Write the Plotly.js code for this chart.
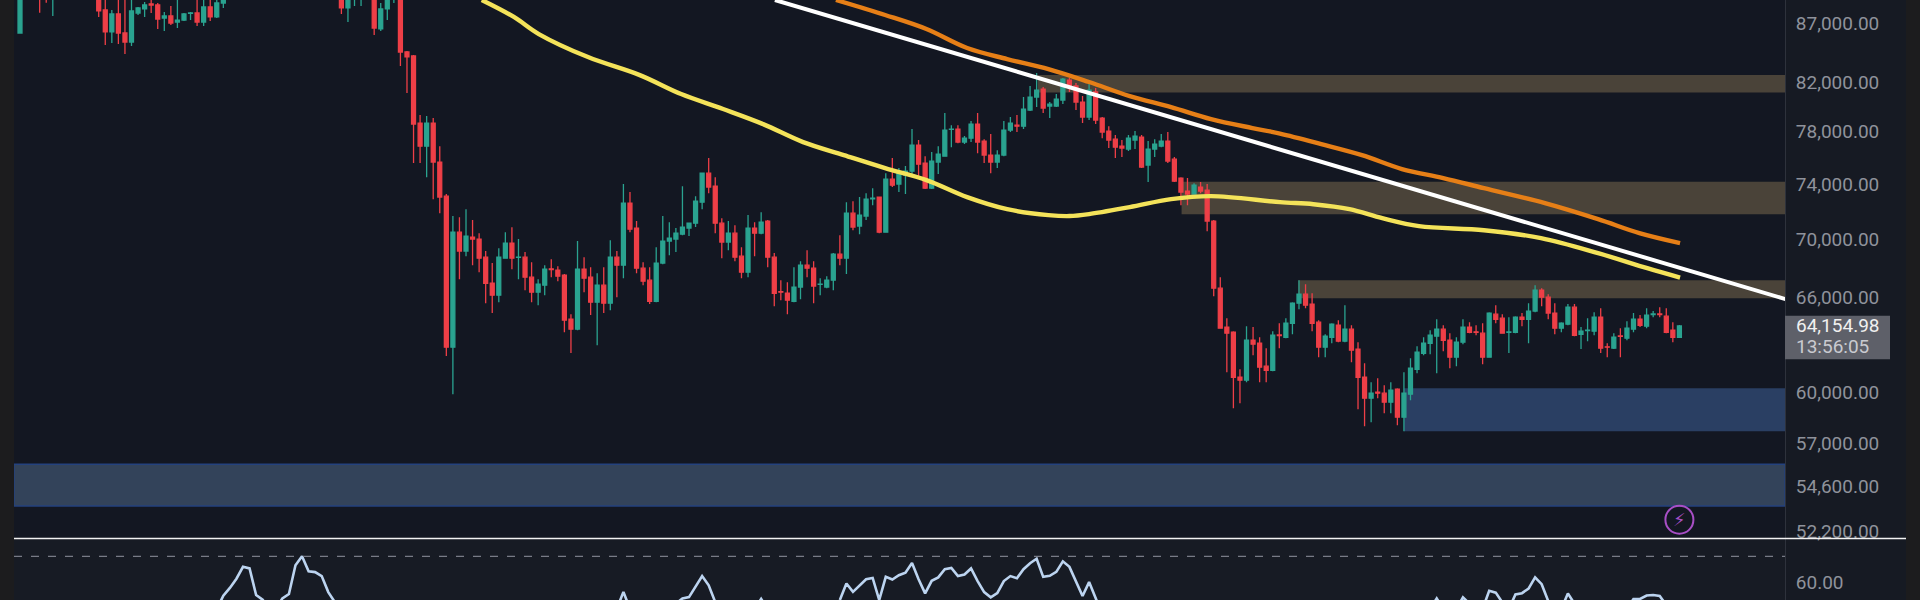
<!DOCTYPE html>
<html>
<head>
<meta charset="utf-8">
<script src="https://cdn.plot.ly/plotly-3.0.1.min.js"></script>
<style>
html,body{margin:0;padding:0;background:#1c1c1e;width:1920px;height:600px;overflow:hidden}
#chart{position:absolute;left:14px;top:0;width:1892px;height:600px}
</style>
</head>
<body>
<div id="chart"></div>
<script>
const _ = null;
const opens = [
86130,_,_,90500,90500,89800,_,_,_,_,
_,_,90000,88145,86220,87790,86130,85350,87880,88240,
88680,88590,87440,87620,87090,87260,87840,87880,87090,88410,
87530,88770,_,_,_,_,_,_,_,_,
_,_,_,_,_,_,_,_,_,90000,
88330,89800,89800,_,90500,86480,88240,89800,90500,84500,
84160,78670,76870,78670,75650,73100,62800,70500,69170,70150,
70010,68750,66970,66170,68680,69720,68730,68750,67380,66370,
66840,67950,67860,67520,64590,63950,67920,67380,65710,66840,
65640,68750,68200,72590,70790,67990,67180,65770,68340,69870,
70010,70360,70790,71140,72660,74810,73840,71140,69800,70430,
68820,67720,70790,70430,71290,68750,66400,66300,65770,66710,
68200,67990,66890,66710,67180,68960,68680,71860,70930,71650,
72900,73030,70500,74360,73990,74660,74960,76950,75570,73690,
75650,76100,78180,78200,77180,77490,78590,77260,76180,75650,
76180,78120,78510,78430,79710,80760,81410,80030,80030,80510,
82150,81660,80350,79150,81170,79070,78040,77410,76870,76640,
77340,77570,75420,76640,76870,77260,75870,74440,73470,73250,
73770,73540,71290,66640,64080,63750,60930,60750,63240,63050,
61610,61360,63580,63430,64330,65640,66240,65580,64400,62800,
63430,64200,63180,63950,62680,60930,59660,60020,59960,59420,
60200,58530,59900,61420,62420,63050,63500,63950,63240,62170,
63120,64080,63780,63690,62170,64920,64660,63740,63750,64720,
64590,65120,66500,66040,64990,64010,64270,65380,63620,63860,
63820,64720,62820,62740,63510,63370,63950,64590,64140,64900,
64930,64790,63880,63430];
const highs = [
91000,_,_,91000,91000,91000,_,_,_,_,
_,_,90300,89500,88145,89040,89040,89040,88410,88860,
89040,88770,87970,88500,89040,87880,87970,89040,89040,89040,
89040,89800,_,_,_,_,_,_,_,_,
_,_,_,_,_,_,_,_,_,90300,
90300,91000,91000,_,91000,88770,90200,90600,91000,84580,
84250,79310,79230,79070,76870,73250,71650,71570,72150,71360,
70430,69170,68340,69370,70500,70850,70010,69100,68400,67240,
68200,68610,68130,67590,64920,69870,68750,68060,67650,68060,
69935,69170,73990,73400,71290,68400,68060,69440,71650,71210,
70790,73830,71140,73100,74810,75950,74510,71500,71290,71000,
69440,71720,71210,71930,71360,69030,67180,67040,68060,68470,
69235,68470,67310,67450,69030,70290,72660,72730,73030,73320,
73690,73030,74810,75950,75190,75340,78200,77340,76100,76410,
76870,79470,78510,78510,77650,78830,79470,77410,77810,76560,
78830,79150,79310,80760,81660,82730,81570,80350,81000,82310,
82310,81910,80840,81990,81490,79150,78430,77730,77340,77730,
78040,77730,77260,77410,77810,77960,76030,74510,74440,74060,
74140,73990,71360,67380,64660,63820,61420,64140,64080,63430,
62740,63820,64330,64660,65710,67180,66910,66300,64530,63620,
64330,64530,65510,64200,63120,61790,60630,60870,60440,60630,
60260,61240,62110,62860,63430,63880,64590,64200,63690,63430,
64590,64400,64200,64330,65050,65510,64920,64720,64790,64990,
65640,66840,66640,66240,65640,64400,65580,65580,64080,64660,
65050,65310,63050,63690,64010,64460,64990,64860,65310,65120,
65380,65310,64400,64210];
const lows = [
86130,_,_,87910,88800,87620,_,_,_,_,
_,_,87530,85100,85270,85180,84330,85010,87700,87530,
87880,86480,86300,86830,86560,87180,87260,86740,86740,87180,
87440,88330,_,_,_,_,_,_,_,_,
_,_,_,_,_,_,_,_,_,87790,
87090,88500,88500,_,85960,86300,87260,88770,83320,81080,
75570,75570,74510,72880,71860,62240,59900,67240,68820,68200,
67720,65640,64990,65710,68680,67920,67240,66500,65710,65510,
66170,67380,67110,63750,62430,63880,66370,64860,62930,64990,
65180,66040,67310,70500,67650,66840,65580,65710,68270,68890,
69100,70290,70220,70860,72150,73320,70430,68680,69235,68470,
67310,67380,68820,70360,68060,65440,65840,64920,65710,65900,
67380,65640,66170,66640,66500,68200,67590,70640,70360,71360,
72440,70430,70500,73770,73400,73250,74590,74590,73620,73620,
74740,76100,76790,77100,77030,77180,76330,75570,74810,75190,
76100,77960,77960,78200,79630,79950,79470,79070,79950,80190,
81170,79710,78670,78910,78590,77490,76720,75950,76030,76490,
76640,75190,74140,76030,76790,75570,74140,72440,72440,73250,
73320,70570,66100,64010,61240,59060,59360,60630,62300,60630,
60630,61300,62740,63370,63620,65250,65310,63820,62170,62170,
63050,63120,63120,61860,59000,58000,58230,59660,58770,58770,
58060,57710,59540,61180,62300,62360,61180,62550,61490,61610,
62990,63690,63560,61730,62170,64330,63690,62430,63690,64140,
63050,65050,65440,64590,63620,63750,64200,63500,62680,63180,
63560,62430,62170,62680,62170,63240,63750,64080,64010,64720,
64720,63690,63120,63430];
const closes = [
90800,_,_,89800,89800,90500,_,_,_,_,
_,_,88060,86220,87790,86130,85350,88060,88330,88590,
88590,87350,87620,87000,87260,87790,87880,87090,88410,87530,
88770,89400,_,_,_,_,_,_,_,_,
_,_,_,_,_,_,_,_,_,88330,
90000,90500,90500,_,86560,88240,89800,90300,84500,84080,
78590,76870,78670,75650,73030,62800,70500,69170,70220,70010,
68680,66970,66170,68750,69720,68680,68750,67380,66370,66910,
67920,67900,67450,64530,63950,67920,67310,65710,66840,65640,
68750,68200,72590,70710,67990,67110,65770,68340,69870,70080,
70430,70860,71140,72730,74810,73770,71140,69800,70430,68750,
67720,70790,70430,71210,68750,66300,66370,65840,66710,68200,
67990,66780,66910,67180,68960,68680,71860,70860,71720,72880,
72950,70500,74360,73910,74890,74960,76950,75490,73690,75720,
76260,78120,78200,77180,77490,78590,77180,76180,75650,76180,
78120,78670,78430,79790,80760,81330,79870,80190,80590,82230,
81580,80350,79150,81330,78910,77960,77340,76790,76720,77490,
77650,75270,76640,77030,77260,75720,74210,73400,73250,73910,
73470,71290,66640,64010,63690,60930,60750,63240,62990,61550,
61360,63560,63540,64330,65640,66240,65510,64330,62800,63500,
64270,63180,63950,62610,60930,59660,59960,59960,59420,60140,
58530,59960,61490,62480,63050,63560,63950,63240,62170,63120,
64080,63750,63750,62170,64990,64590,63690,63770,64720,64590,
65120,66500,66040,64990,64010,64330,65380,63560,63820,63880,
64720,62740,62800,63430,63490,64010,64590,64200,64860,64930,
64900,63750,63430,64154.98];
const candleIndex = opens.map((v,i)=>i);

const trendIdx = [115.1, 269.2];
const trendPrice = [89036, 65905];

const ma1Idx = [124.4,131.9,138.2,144.4,150.5,156.8,163.0,169.2,175.5,181.6,187.9,192.1,198.4,204.6,210.7,217.0,223.2,232.5,240.6,246.9,253.1];
const ma1Price = [89036,87705,86476,84840,83900,83060,81990,80840,79950,78990,78280,77850,77030,76180,75120,74440,73690,72590,71430,70430,69725];

const ma2Idx = [70.4,75.3,79.1,86.6,94.5,100.8,107.2,113.3,119.4,125.6,131.9,138.2,144.4,150.5,156.8,160.0,163.0,169.2,175.5,181.6,192.1,197.2,202.7,207.7,213.3,223.2,231.9,240.6,248.1,253.1];
const ma2Price = [89036,87530,86040,84070,82560,81000,79790,78590,77180,76180,75190,74290,73030,72150,71720,71650,71790,72300,72880,73100,72660,72510,72150,71500,70930,70640,70080,69030,67990,67350];

const rsiIdx = [30,31,32,33,34,35,36,37,38,_,39,40,41,42,43,44,45,46,47,48,_,91,92,93,_,100,101,102,103,104,105,106,_,112,113,114,_,
125,126,127,128,129,130,131,132,133,134,135,136,137,138,139,140,141,142,143,144,145,146,147,148,149,150,151,152,153,154,155,156,157,158,159,160,161,162,163,164,165,_,
215,216,217,_,219,220,221,_,223,224,225,226,_,227,228,229,230,231,232,233,_,235,236,237,_,245,246,247,248,249,250,251];
const rsiVal = [50,55,58,61.5,66,65.4,55.3,53.5,50,_,50,54,55.7,66.6,70,64.3,64,62.5,56.4,52.6,_,50,56.5,50,_,52,54,54.5,58.3,62.5,59,52.6,_,50,53.8,50,_,
53.4,59.7,56.5,59,61.3,61.8,53.4,62.2,61.2,62.8,63.8,67.5,61.3,55.9,60.7,62,65.1,65.6,62.5,63.1,65.4,60.6,56.4,54.4,56,60.6,62.5,61.7,65.1,67.4,69.1,62.2,62.6,64.1,68.1,66,60.6,54.9,60.2,53.4,48,_,
50,54,50,_,50,54.4,52,_,50,56.9,56.2,52.5,_,50,55.5,56,57.7,62,59.4,53,_,50,55.9,52,_,50,53.8,53.8,55.1,55.3,54.9,51.5];

const priceTicks = [87000,82000,78000,74000,70000,66000,60000,57000,54600,52200];
const priceTickText = ['87,000.00','82,000.00','78,000.00','74,000.00','70,000.00','66,000.00','60,000.00','57,000.00','54,600.00','52,200.00'];
const rsiTicks = [60];
const rsiTickText = ['60.00'];
const rsiUpper = 70;
const lastPriceText = '64,154.98';
const countdownText = '13:56:05';

const tanZones = [[155.2,82570,81120],[177.1,74160,71790],[194.9,67177,65970]];
const blueZone = [211,60260,57710];
const baseZone = [55830,53530];
const alertIdx = [253];
const alertPrice = [52800];

const priceRange = [Math.log10(51836), Math.log10(89036)];
const xRange = [-0.915, 269.1];
const xEnd = xRange[1];

const shapes = [];
tanZones.forEach(z=>shapes.push({type:'rect',xref:'x',yref:'y',x0:z[0],x1:xEnd,y0:z[1],y1:z[2],fillcolor:'#4a4339',line:{width:0},layer:'below'}));
shapes.push({type:'rect',xref:'x',yref:'y',x0:blueZone[0],x1:xEnd,y0:blueZone[1],y1:blueZone[2],fillcolor:'#2a3f63',line:{width:0},layer:'below'});
shapes.push({type:'rect',xref:'x',yref:'y',x0:xRange[0],x1:xEnd,y0:baseZone[0],y1:baseZone[1],fillcolor:'#33435a',line:{width:1.5,color:'#24427e'},layer:'below'});
shapes.push({type:'rect',xref:'x',yref:'y2',x0:xRange[0],x1:xEnd,y0:40,y1:80,fillcolor:'#171b24',line:{width:0},layer:'below'});
shapes.push({type:'line',xref:'x',yref:'y2',x0:xRange[0],x1:xEnd,y0:rsiUpper,y1:rsiUpper,line:{color:'#787b86',width:1.2,dash:'8px,9px'}});
shapes.push({type:'line',xref:'paper',yref:'paper',x0:0,x1:1892/1771,y0:0.1025,y1:0.1025,line:{color:'#f2f2f2',width:1.6}});
shapes.push({type:'rect',xref:'paper',yref:'y',x0:1,x1:1+105/1771,y0:64810,y1:62040,fillcolor:'#5e6069',line:{width:0}});

const data = [
 {type:'candlestick',x:candleIndex,open:opens,high:highs,low:lows,close:closes,xaxis:'x',yaxis:'y',
  increasing:{line:{color:'#2aa390',width:1.3},fillcolor:'#2aa390'},
  decreasing:{line:{color:'#ee3f47',width:1.3},fillcolor:'#ee3f47'},whiskerwidth:0,hoverinfo:'skip',showlegend:false},
 {type:'scatter',mode:'lines',x:ma2Idx,y:ma2Price,line:{color:'#f4e35a',width:4.4,shape:'spline',smoothing:1},yaxis:'y',hoverinfo:'skip',showlegend:false},
 {type:'scatter',mode:'lines',x:trendIdx,y:trendPrice,line:{color:'#ffffff',width:4},yaxis:'y',hoverinfo:'skip',showlegend:false},
 {type:'scatter',mode:'lines',x:ma1Idx,y:ma1Price,line:{color:'#e67f17',width:4.4,shape:'spline',smoothing:1},yaxis:'y',hoverinfo:'skip',showlegend:false},
 {type:'scatter',mode:'lines',x:rsiIdx,y:rsiVal,line:{color:'#bcd4f0',width:2.6},yaxis:'y2',hoverinfo:'skip',showlegend:false},
 {type:'scatter',mode:'markers',x:alertIdx,y:alertPrice,yaxis:'y',marker:{symbol:'circle-open',size:28,color:'#a84fc6',line:{width:2,color:'#a84fc6'}},hoverinfo:'skip',showlegend:false}
];

const tickFont = {family:'Roboto, sans-serif',size:19,color:'#8f929b'};
const layout = {
 width:1892,height:600,margin:{l:0,r:121,t:0,b:0,pad:0},
 paper_bgcolor:'#161a23',plot_bgcolor:'#131722',showlegend:false,boxgap:0.14,
 xaxis:{range:xRange,visible:false,rangeslider:{visible:false},anchor:'y2',fixedrange:true},
 yaxis:{type:'log',domain:[0.1033,1],range:priceRange,side:'right',anchor:'x',tickmode:'array',tickvals:priceTicks,ticktext:priceTickText,
   showgrid:false,zeroline:false,ticks:'',ticklen:0,ticklabelstandoff:6,tickfont:tickFont,showline:true,linecolor:'#2e323c',linewidth:1},
 yaxis2:{domain:[0,0.1017],range:[53.4,76.6],side:'right',anchor:'x',tickmode:'array',tickvals:rsiTicks,ticktext:rsiTickText,
   showgrid:false,zeroline:false,ticks:'',ticklen:0,ticklabelstandoff:6,tickfont:tickFont,showline:true,linecolor:'#2e323c',linewidth:1},
 shapes:shapes,
 annotations:[
  {xref:'paper',yref:'y',x:1,y:Math.log10(64154.98),text:lastPriceText,showarrow:false,xanchor:'left',xshift:9,font:{family:'Roboto, sans-serif',size:19,color:'#f0f0f0'}},
  {xref:'paper',yref:'y',x:1,y:Math.log10(62870),text:countdownText,showarrow:false,xanchor:'left',xshift:9,font:{family:'Roboto, sans-serif',size:19,color:'#c9cad0'}},
  {xref:'x',yref:'y',x:alertIdx[0],y:Math.log10(alertPrice[0]),text:'⚡',showarrow:false,font:{family:'DejaVu Sans, sans-serif',size:18,color:'#a84fc6'}}
 ]
};
Plotly.newPlot('chart',data,layout,{displayModeBar:false,staticPlot:true});
</script>
</body>
</html>
